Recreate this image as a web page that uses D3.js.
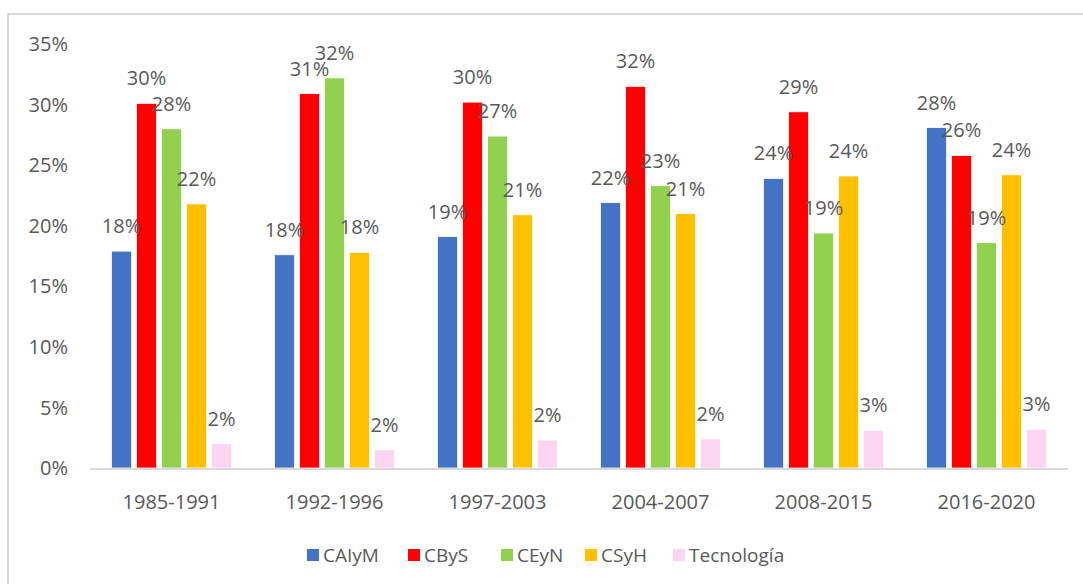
<!DOCTYPE html>
<html>
<head>
<meta charset="utf-8">
<script src="https://cdn.jsdelivr.net/npm/d3@7"></script>
<style>
  body { margin: 0; background: #fff; }
  svg { display: block; font-family: "Open Sans", "Liberation Sans", Arial, sans-serif; }
</style>
</head>
<body>
<div id="chart"></div>
<script>
// periods on the x axis
const periods = ["1985-1991", "1992-1996", "1997-2003", "2004-2007", "2008-2015", "2016-2020"];

// series names, colours and values (%)
const seriesNames = ["CAIyM", "CByS", "CEyN", "CSyH", "Tecnología"];
const seriesColors = ["#4472C4", "#FF0000", "#92D050", "#FFC000", "#FCD5F2"];

const caiym = [17.9, 17.6, 19.1, 21.9, 23.9, 28.1];
const cbys  = [30.1, 30.9, 30.2, 31.5, 29.4, 25.8];
const ceyn  = [28.0, 32.2, 27.4, 23.3, 19.4, 18.6];
const csyh  = [21.8, 17.8, 20.9, 21.0, 24.1, 24.2];
const tecno = [2.0, 1.5, 2.3, 2.4, 3.1, 3.2];

const yTicks = [0, 5, 10, 15, 20, 25, 30, 35];

const allSeries = [caiym, cbys, ceyn, csyh, tecno];

const W = 1083, H = 584;
const svg = d3.select("#chart").append("svg")
  .attr("width", W).attr("height", H);

// chart frame (light grey border, runs off the right/bottom)
svg.append("rect")
  .attr("x", 8).attr("y", 14)
  .attr("width", W + 20).attr("height", H + 20)
  .attr("fill", "#fff")
  .attr("stroke", "#d9d9d9").attr("stroke-width", 2);

const plotLeft = 90, plotRight = 1068, plotTop = 44, plotBottom = 468;

const x = d3.scaleBand().domain(periods).range([plotLeft, plotRight])
  .paddingInner(0.264).paddingOuter(0.132);
const xs = d3.scaleBand().domain(seriesNames).range([0, x.bandwidth()])
  .paddingInner(0.2).paddingOuter(0);
const y = d3.scaleLinear().domain([0, 35]).range([plotBottom, plotTop]);

const textColor = "#595959";

// y axis labels
svg.append("g").selectAll("text")
  .data(yTicks).join("text")
  .attr("x", 68).attr("y", d => y(d))
  .attr("dy", "0.36em")
  .attr("text-anchor", "end")
  .attr("fill", textColor)
  .style("font-size", "20px")
  .text(d => d + "%");

// bars
const groups = svg.append("g").selectAll("g")
  .data(periods).join("g")
  .attr("transform", d => `translate(${x(d)},0)`);

groups.each(function(p, i) {
  const g = d3.select(this);
  const rows = seriesNames.map((s, k) => ({ s, k, v: allSeries[k][i] }));
  g.selectAll("rect").data(rows).join("rect")
    .attr("x", d => xs(d.s))
    .attr("width", xs.bandwidth())
    .attr("y", d => y(d.v))
    .attr("height", d => y(0) - y(d.v))
    .attr("fill", d => seriesColors[d.k])
    .attr("stroke", "#fff").attr("stroke-width", 0.75);
  g.selectAll("text").data(rows).join("text")
    .attr("x", d => xs(d.s) + xs.bandwidth() / 2)
    .attr("y", d => y(d.v) - 18)
    .attr("text-anchor", "middle")
    .attr("fill", textColor)
    .style("font-size", "20px")
    .text(d => Math.round(d.v) + "%");
});

// x axis line
svg.append("line")
  .attr("x1", plotLeft).attr("x2", plotRight)
  .attr("y1", plotBottom + 1).attr("y2", plotBottom + 1)
  .attr("stroke", "#d9d9d9").attr("stroke-width", 2);

// x axis labels
svg.append("g").selectAll("text")
  .data(periods).join("text")
  .attr("x", d => x(d) + x.bandwidth() / 2)
  .attr("y", 509)
  .attr("text-anchor", "middle")
  .attr("fill", textColor)
  .style("font-size", "20px")
  .text(d => d);

// legend
const legendX = [307, 408, 501, 585, 673];
const legend = svg.append("g").selectAll("g")
  .data(seriesNames).join("g")
  .attr("transform", (d, i) => `translate(${legendX[i]},549)`);
legend.append("rect")
  .attr("width", 12).attr("height", 12)
  .attr("fill", (d, i) => seriesColors[i]);
legend.append("text")
  .attr("x", 16).attr("y", 6).attr("dy", "0.36em")
  .attr("fill", textColor)
  .style("font-size", "19px")
  .text(d => d);
</script>
</body>
</html>
